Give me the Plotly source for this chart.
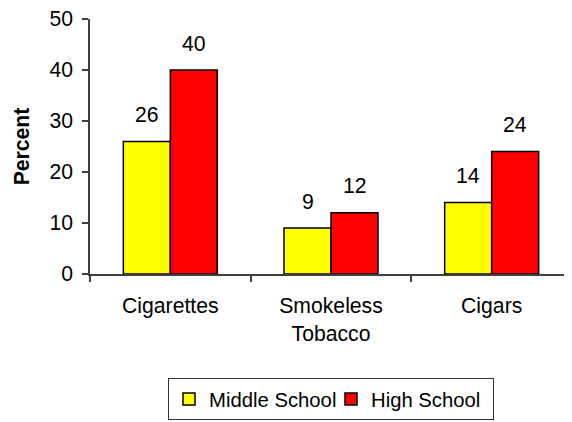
import plotly.graph_objects as go

categories = ["Cigarettes", "Smokeless<br>Tobacco", "Cigars"]
middle_school = [26, 9, 14]
high_school = [40, 12, 24]
series_names = ["Middle School", "High School"]
y_ticks = [0, 10, 20, 30, 40, 50]

FONT = "Liberation Sans, Arial, sans-serif"
FS = 21.2
LFS = 20.3

fig = go.Figure()
fig.add_trace(go.Bar(x=categories, y=middle_school, name=series_names[0],
                     marker=dict(color="#FFFF00", line=dict(color="#000000", width=1.5))))
fig.add_trace(go.Bar(x=categories, y=high_school, name=series_names[1],
                     marker=dict(color="#FF0000", line=dict(color="#000000", width=1.5))))

for vals, shift in ((middle_school, -23.5), (high_school, 23.5)):
    for c, v in zip(categories, vals):
        fig.add_annotation(x=c, y=v, xref="x", yref="y", text=str(v), showarrow=False,
                           xshift=shift, yshift=27, yanchor="middle",
                           font=dict(size=FS, color="#000000", family=FONT))

# the page body has an 8px default margin; the figure is sized to compensate
fig.update_layout(
    width=564, height=414,
    margin=dict(l=82, r=0, t=11, b=148, autoexpand=False),
    paper_bgcolor="#FFFFFF", plot_bgcolor="#FFFFFF",
    font=dict(family=FONT, size=FS, color="#000000"),
    barmode="group", bargap=0.415, bargroupgap=0,
    showlegend=True,
    legend=dict(orientation="h", x=0.5, xanchor="center", y=-0.409, yanchor="top",
                bordercolor="#333333", borderwidth=1, font=dict(size=LFS, family=FONT),
                bgcolor="#FFFFFF", itemwidth=30, tracegroupgap=0,
                entrywidth=117, entrywidthmode="pixels"),
    xaxis=dict(showline=True, linecolor="#404040", linewidth=1.5, ticks="outside",
               tickson="boundaries", ticklen=6, tickcolor="#404040", tickwidth=1.5,
               showgrid=False, zeroline=False, tickfont=dict(size=FS, family=FONT),
               ticklabelstandoff=12, automargin=False, ticklabeloverflow="allow"),
    yaxis=dict(range=[0, 50], tickvals=y_ticks, showline=True, linecolor="#404040",
               linewidth=1.5, ticks="outside", ticklen=6, tickcolor="#404040", tickwidth=1.5,
               showgrid=False, zeroline=False, tickfont=dict(size=FS, family=FONT),
               ticklabelstandoff=5, automargin=False, ticklabeloverflow="allow",
               title=dict(text="<b>Percent</b>", font=dict(size=FS, family=FONT), standoff=14)),
)

fig.write_html("out.html")
